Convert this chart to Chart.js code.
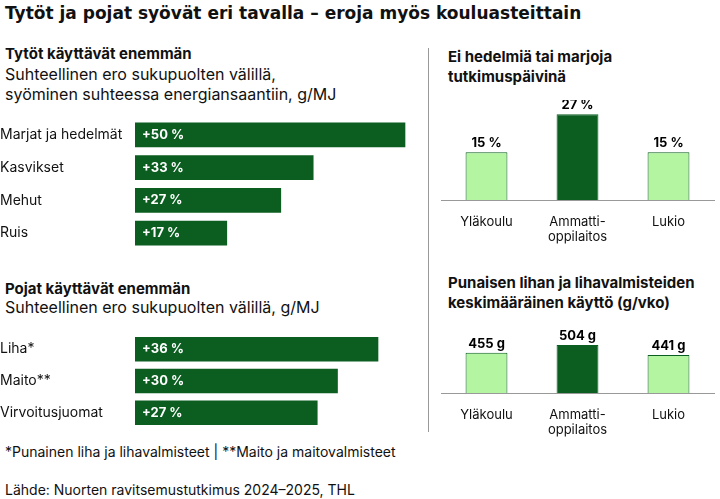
<!DOCTYPE html>
<html><head><meta charset="utf-8">
<script src="https://cdn.jsdelivr.net/npm/chart.js@4"></script>
<style>
body{margin:0;width:720px;height:499px;position:relative;font-family:Inter,Roboto,sans-serif;color:#111;background:#fff;overflow:hidden}
.t{position:absolute;white-space:nowrap}
canvas{position:absolute}
</style></head><body>
<div class="t" style="left:5px;top:3px;font-size:17px;font-weight:700;font-family:'DejaVu Sans',sans-serif">Tytöt ja pojat syövät eri tavalla – eroja myös kouluasteittain</div>
<div class="t" style="left:5px;top:44px;font-size:15px;font-weight:700">Tytöt käyttävät enemmän</div>
<div class="t" style="left:5px;top:64px;font-size:16px;line-height:20px">Suhteellinen ero sukupuolten välillä,<br>syöminen suhteessa energiansaantiin, g/MJ</div>
<div class="t" style="left:5px;top:279px;font-size:15px;font-weight:700">Pojat käyttävät enemmän</div>
<div class="t" style="left:5px;top:297px;font-size:16px">Suhteellinen ero sukupuolten välillä, g/MJ</div>
<div class="t" style="left:5px;top:443px;font-size:14px">*Punainen liha ja lihavalmisteet | **Maito ja maitovalmisteet</div>
<div class="t" style="left:5px;top:481px;font-size:14px">Lähde: Nuorten ravitsemustutkimus 2024–2025, THL</div>
<div class="t" style="left:448px;top:47px;font-size:15px;font-weight:700;line-height:20px">Ei hedelmiä tai marjoja<br>tutkimuspäivinä</div>
<div class="t" style="left:448px;top:273px;font-size:15px;font-weight:700;line-height:20px">Punaisen lihan ja lihavalmisteiden<br>keskimääräinen käyttö (g/vko)</div>
<div style="position:absolute;left:428px;top:48px;width:1px;height:384px;background:#999"></div>
<canvas id="c1" style="left:0;top:110px"></canvas>
<canvas id="c2" style="left:0;top:325px"></canvas>
<canvas id="c3" style="left:440px;top:100px"></canvas>
<canvas id="c4" style="left:440px;top:328px"></canvas>
<script>
const girlsCats = ["Marjat ja hedelmät", "Kasvikset", "Mehut", "Ruis"];
const girlsVals = [50, 33, 27, 17];
const boysCats = ["Liha*", "Maito**", "Virvoitusjuomat"];
const boysVals = [36, 30, 27];
const schools = ["Yläkoulu", ["Ammatti-", "oppilaitos"], "Lukio"];
const noFruitVals = [15, 27, 15];
const meatVals = [455, 504, 441];

const DARK = "#0b5e20", LIGHT = "#b3f5a0";
const FONT = "Inter, Roboto, sans-serif";
Chart.defaults.font.family = FONT;
Chart.defaults.color = "#111";
Chart.defaults.animation = false;
Chart.defaults.responsive = false;

const insideLabels = {
  id: "inside",
  afterDatasetsDraw(chart) {
    const ctx = chart.ctx;
    chart.getDatasetMeta(0).data.forEach((bar, i) => {
      ctx.save();
      ctx.fillStyle = "#fff";
      ctx.font = "bold 13px " + FONT;
      ctx.textBaseline = "middle";
      ctx.fillText("+" + chart.data.datasets[0].data[i] + " %", bar.base + 7, bar.y);
      ctx.restore();
    });
  }
};
const topLabels = {
  id: "toplab",
  afterDatasetsDraw(chart, args, opts) {
    const ctx = chart.ctx;
    chart.getDatasetMeta(0).data.forEach((bar, i) => {
      ctx.save();
      ctx.font = "bold 13px " + FONT;
      ctx.textAlign = "center";
      ctx.fillText(chart.data.datasets[0].data[i] + opts.unit, bar.x, bar.y - 5);
      ctx.restore();
    });
  }
};

function hbar(id, cats, vals, w, h, max) {
  const el = document.getElementById(id);
  el.width = w; el.height = h;
  new Chart(el, {
    type: "bar",
    data: { labels: cats, datasets: [{ data: vals, backgroundColor: DARK, barThickness: 24 }] },
    options: {
      indexAxis: "y",
      layout: { padding: 0 },
      scales: {
        x: { display: false, min: 0, max: max },
        y: {
          grid: { display: false }, border: { display: false },
          ticks: { crossAlign: "far", padding: 0, font: { size: 14 }, color: "#111" },
          afterFit: s => { s.width = 135; }
        }
      },
      plugins: { legend: { display: false }, tooltip: { enabled: false } }
    },
    plugins: [insideLabels]
  });
}
hbar("c1", girlsCats, girlsVals, 420, 148, (420 - 135) / 5.4);
hbar("c2", boysCats, boysVals, 420, 112, (420 - 135) / 6.75);

function vbar(id, vals, h, min, max, unit) {
  const el = document.getElementById(id);
  el.width = 280; el.height = h;
  new Chart(el, {
    type: "bar",
    data: { labels: schools, datasets: [{
      data: vals,
      backgroundColor: [LIGHT, DARK, LIGHT],
      borderColor: DARK, borderWidth: 1,
      barPercentage: 0.46, categoryPercentage: 1
    }] },
    options: {
      layout: { padding: { top: 10, left: 1, right: 6 } },
      scales: {
        y: { display: false, min: min, max: max },
        x: {
          grid: { display: false }, border: { display: true, color: "#999" },
          ticks: { font: { size: 13 }, color: "#111", padding: 6 },
          afterFit: s => { s.height = 45; }
        }
      },
      plugins: { legend: { display: false }, tooltip: { enabled: false }, toplab: { unit: unit } }
    },
    plugins: [topLabels]
  });
}
vbar("c3", noFruitVals, 145, 0, 28.3, " %");
vbar("c4", meatVals, 110, 200, 548, " g");
</script>
</body></html>
